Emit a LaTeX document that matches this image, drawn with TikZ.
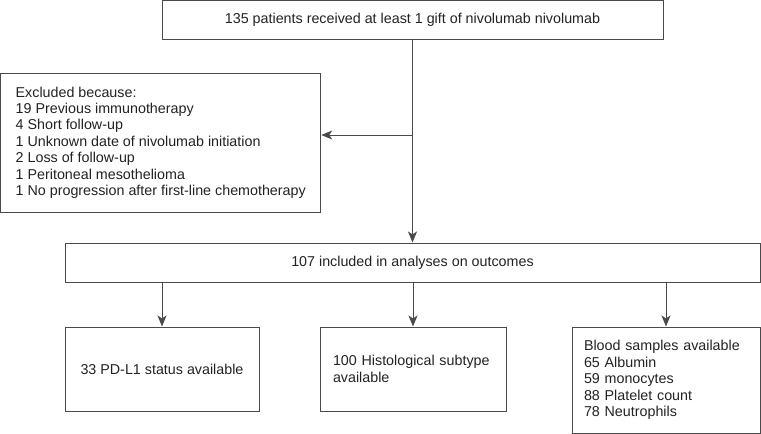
\documentclass[tikz,border=0pt]{standalone}
\usepackage{fontspec}
\setmainfont{Liberation Sans}
\usetikzlibrary{arrows.meta}
\definecolor{linec}{HTML}{4A4A4A}
\definecolor{textc}{HTML}{222222}
\begin{document}
\begin{tikzpicture}[x=1pt,y=-1pt,
  box/.style={draw=linec, line width=1pt, inner sep=0pt, text=textc,
    font=\fontsize{14.3}{16.4}\selectfont},
  arr/.style={draw=linec, line width=1pt, -{Stealth[length=11pt,width=9pt,inset=3pt]}}]
\useasboundingbox (0,0) rectangle (761,434);
\node[box, minimum width=501pt, minimum height=39pt] (top) at (412.5,19.5)
  {135 patients received at least 1 gift of nivolumab nivolumab};
\node[box, minimum width=320pt, minimum height=139pt, align=left] (excl) at (160.75,142.5)
  {Excluded because:\\
   19 Previous immunotherapy\\
   4 Short follow-up\\
   1 Unknown date of nivolumab initiation\\
   2 Loss of follow-up\\
   1 Peritoneal mesothelioma\\
   1 No progression after first-line chemotherapy};
\node[box, minimum width=695pt, minimum height=39pt] (inc) at (412.5,262.5)
  {107 included in analyses on outcomes};
\node[box, minimum width=194pt, minimum height=84pt] (pdl) at (162,369)
  {33 PD-L1 status available};
\node[box, minimum width=186pt, minimum height=84pt, inner xsep=13pt,
  text width=160pt, align=left] (hist) at (413,369)
  {100 Histological subtype\\available};
\node[box, minimum width=188pt, minimum height=106pt, inner xsep=12pt,
  text width=164pt, align=left] (blood) at (666,380)
  {Blood samples available\\
   65 Albumin\\
   59 monocytes\\
   88 Platelet count\\
   78 Neutrophils};
\coordinate (j) at (412.5,135);
\draw[arr] (top.south) -- (inc.north);
\draw[arr] (j) -- (j -| excl.east);
\draw[arr] (inc.south -| pdl.north) -- (pdl.north);
\draw[arr] (inc.south -| hist.north) -- (hist.north);
\draw[arr] (inc.south -| blood.north) -- (blood.north);
\end{tikzpicture}
\end{document}
